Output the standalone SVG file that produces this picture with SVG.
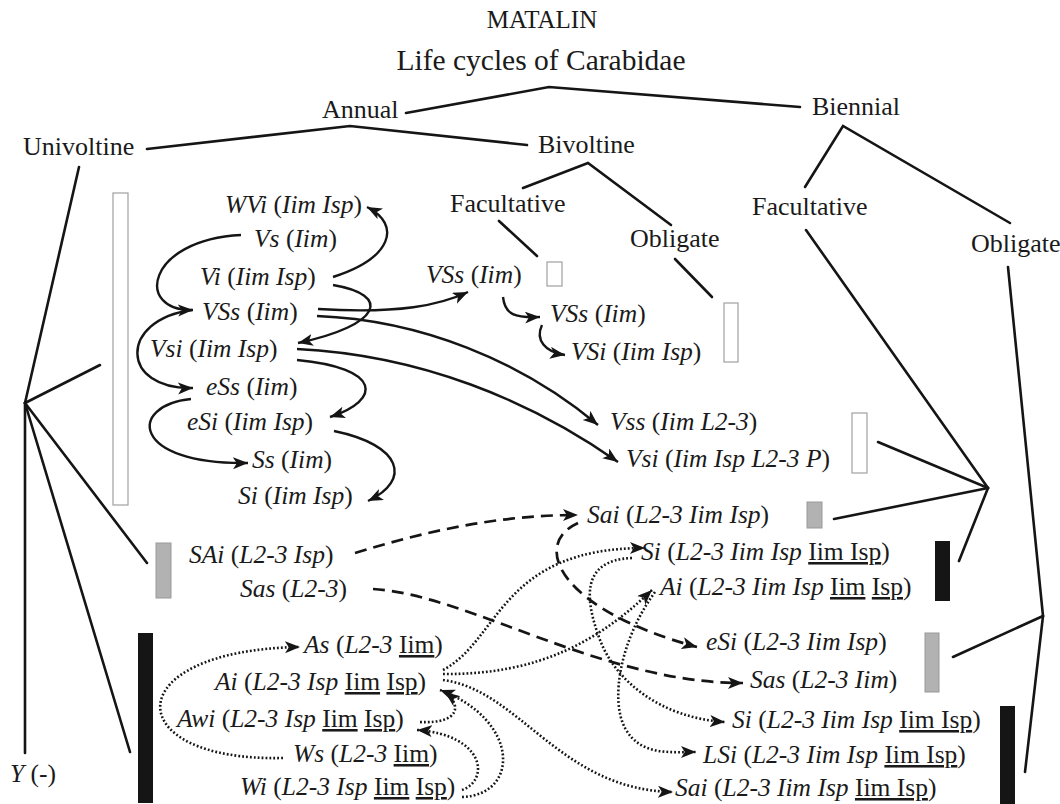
<svg xmlns="http://www.w3.org/2000/svg" width="1060" height="804" viewBox="0 0 1060 804" font-family="'Liberation Serif', 'DejaVu Serif', serif">
<style>
text{font-family:'Liberation Serif','DejaVu Serif',serif;fill:#1a1a1a}
.h{font-size:26px}
.s{font-size:25.5px;font-style:italic}
.n{font-style:normal}
.u{font-style:normal;text-decoration:underline}
.tree{stroke:#151515;stroke-width:2.6;fill:none;stroke-linecap:round}
.arr{stroke:#151515;stroke-width:2.4;fill:none;marker-end:url(#ah)}
.dash{stroke-width:2.7;stroke-dasharray:12 7}
.dot{stroke-width:2.6;stroke-dasharray:1.8 2.1}
.open{fill:#fff;stroke:#a0a0a0;stroke-width:1.2}
.gray{fill:#b2b2b2;stroke:#999;stroke-width:1}
.black{fill:#151515}
</style>
<defs>
<marker id="ah" markerUnits="userSpaceOnUse" markerWidth="17" markerHeight="13" refX="15" refY="6" orient="auto">
<path d="M0,0 L15,6 L0,12 L3.8,6 z" fill="#151515"/>
</marker>
</defs>
<rect width="1060" height="804" fill="#fff"/>

<g id="title">
<text x="542" y="28" font-size="25" text-anchor="middle">MATALIN</text>
<text x="541" y="70" font-size="29.5" text-anchor="middle">Life cycles of Carabidae</text>
</g>

<g id="tree-lines">
<polyline class="tree" points="406,113 549,87 800,107"/>
<polyline class="tree" points="147,149 350,126 527,145"/>
<polyline class="tree" points="805,187 843,126 1010,223"/>
<polyline class="tree" points="523,188 588,163 671,225"/>
<line class="tree" x1="499" y1="221" x2="537" y2="256"/>
<line class="tree" x1="675" y1="259" x2="712" y2="297"/>
<line class="tree" x1="806" y1="230" x2="988" y2="488"/>
<line class="tree" x1="878" y1="442" x2="988" y2="488"/>
<line class="tree" x1="834" y1="519" x2="988" y2="488"/>
<line class="tree" x1="959" y1="561" x2="988" y2="488"/>
<line class="tree" x1="1008" y1="267" x2="1043" y2="616"/>
<line class="tree" x1="1025" y1="772" x2="1043" y2="616"/>
<line class="tree" x1="953" y1="657" x2="1043" y2="616"/>
<line class="tree" x1="79" y1="167" x2="25" y2="403"/>
<line class="tree" x1="100" y1="365" x2="25" y2="403"/>
<line class="tree" x1="25" y1="753" x2="25" y2="403"/>
<line class="tree" x1="147" y1="563" x2="25" y2="403"/>
<line class="tree" x1="130" y1="752" x2="25" y2="403"/>
</g>

<g id="categories">
<text class="h" x="322" y="118">Annual</text>
<text class="h" x="812" y="115">Biennial</text>
<text class="h" x="23" y="155">Univoltine</text>
<text class="h" x="538" y="153">Bivoltine</text>
<text class="h" x="450" y="212">Facultative</text>
<text class="h" x="630" y="247">Obligate</text>
<text class="h" x="752" y="215">Facultative</text>
<text class="h" x="971" y="252">Obligate</text>
<text class="s" x="10" y="782">Y <tspan class="n">(-)</tspan></text>
</g>

<g id="bars">
<rect class="open" x="113" y="193" width="15" height="312"/>
<rect class="open" x="547" y="262" width="15" height="24"/>
<rect class="open" x="724" y="303" width="14" height="59"/>
<rect class="open" x="852" y="413" width="15" height="60"/>
<rect class="gray" x="156" y="543" width="15" height="55"/>
<rect class="black" x="138" y="633" width="15" height="170"/>
<rect class="gray" x="807" y="502" width="15" height="26"/>
<rect class="black" x="935" y="541" width="15" height="60"/>
<rect class="gray" x="925" y="633" width="14" height="59"/>
<rect class="black" x="1000" y="706" width="15" height="98"/>
</g>

<g id="connectors">
<path class="arr" d="M241,235 C145,240 135,312 193,310"/>
<path class="arr" d="M192,310 C118,320 120,390 193,388"/>
<path class="arr" d="M191,399 C128,405 130,465 248,463"/>
<path class="arr" d="M333,277 C392,258 402,225 367,207"/>
<path class="arr" d="M333,285 C392,295 382,325 298,343"/>
<path class="arr" d="M297,360 C382,368 382,400 330,417"/>
<path class="arr" d="M334,431 C402,445 412,480 368,501"/>
<path class="arr" d="M318,309 C400,314 440,305 468,292"/>
<path class="arr" d="M317,316 C420,320 520,360 598,425"/>
<path class="arr" d="M297,349 C420,355 530,400 618,462"/>
<path class="arr" d="M503,297 C505,315 515,318 540,317"/>
<path class="arr" d="M542,325 C535,340 545,352 565,355"/>
<path class="arr dash" d="M355,553 C430,530 500,515 578,515"/>
<path class="arr dash" d="M373,589 C470,595 600,683 743,683"/>
<path class="arr dash" d="M578,523 C530,545 560,610 697,647"/>
<path class="arr dot" d="M443,670 C500,640 500,548 645,548"/>
<path class="arr dot" d="M443,674 C540,675 600,640 652,590"/>
<path class="arr dot" d="M443,680 C520,690 560,790 673,792"/>
<path class="arr dot" d="M632,558 C580,560 585,600 600,640 S660,718 725,722"/>
<path class="arr dot" d="M655,592 C620,640 610,700 625,728 S670,752 696,752"/>
<path class="arr dot" d="M283,758 C118,762 115,650 300,647"/>
<path class="arr dot" d="M420,722 C460,724 462,705 445,692"/>
<path class="arr dot" d="M462,790 C490,780 485,735 417,730"/>
<path class="arr dot" d="M462,797 C520,795 520,720 440,690"/>
</g>

<g id="n-WVi"><text class="s" x="225" y="213">WVi <tspan class="n">(</tspan>Iim Isp<tspan class="n">)</tspan></text></g>
<g id="n-Vs"><text class="s" x="254" y="247">Vs <tspan class="n">(</tspan>Iim<tspan class="n">)</tspan></text></g>
<g id="n-Vi"><text class="s" x="200" y="285">Vi <tspan class="n">(</tspan>Iim Isp<tspan class="n">)</tspan></text></g>
<g id="n-VSs"><text class="s" x="202" y="320">VSs <tspan class="n">(</tspan>Iim<tspan class="n">)</tspan></text></g>
<g id="n-Vsi"><text class="s" x="150" y="357">Vsi <tspan class="n">(</tspan>Iim Isp<tspan class="n">)</tspan></text></g>
<g id="n-eSs"><text class="s" x="206" y="395">eSs <tspan class="n">(</tspan>Iim<tspan class="n">)</tspan></text></g>
<g id="n-eSi"><text class="s" x="187" y="430">eSi <tspan class="n">(</tspan>Iim Isp<tspan class="n">)</tspan></text></g>
<g id="n-Ss"><text class="s" x="252" y="468">Ss <tspan class="n">(</tspan>Iim<tspan class="n">)</tspan></text></g>
<g id="n-Si"><text class="s" x="238" y="504">Si <tspan class="n">(</tspan>Iim Isp<tspan class="n">)</tspan></text></g>

<g id="n-VSs-b1"><text class="s" x="426" y="283">VSs <tspan class="n">(</tspan>Iim<tspan class="n">)</tspan></text></g>
<g id="n-VSs-b2"><text class="s" x="550" y="322">VSs <tspan class="n">(</tspan>Iim<tspan class="n">)</tspan></text></g>
<g id="n-VSi-b2"><text class="s" x="571" y="360">VSi <tspan class="n">(</tspan>Iim Isp<tspan class="n">)</tspan></text></g>
<g id="n-Vss-bf"><text class="s" x="610" y="430">Vss <tspan class="n">(</tspan>Iim L2-3<tspan class="n">)</tspan></text></g>
<g id="n-Vsi-bf"><text class="s" x="626" y="467">Vsi <tspan class="n">(</tspan>Iim Isp L2-3 P<tspan class="n">)</tspan></text></g>

<g id="n-SAi"><text class="s" x="189" y="563">SAi <tspan class="n">(</tspan>L2-3 Isp<tspan class="n">)</tspan></text></g>
<g id="n-Sas"><text class="s" x="240" y="597">Sas <tspan class="n">(</tspan>L2-3<tspan class="n">)</tspan></text></g>
<g id="n-As"><text class="s" x="304" y="653">As <tspan class="n">(</tspan>L2-3 <tspan class="u">Iim</tspan><tspan class="n">)</tspan></text></g>
<g id="n-Ai"><text class="s" x="215" y="690">Ai <tspan class="n">(</tspan>L2-3 Isp <tspan class="u">Iim</tspan> <tspan class="u">Isp</tspan><tspan class="n">)</tspan></text></g>
<g id="n-Awi"><text class="s" x="177" y="727">Awi <tspan class="n">(</tspan>L2-3 Isp <tspan class="u">Iim</tspan> <tspan class="u">Isp</tspan><tspan class="n">)</tspan></text></g>
<g id="n-Ws"><text class="s" x="293" y="762">Ws <tspan class="n">(</tspan>L2-3 <tspan class="u">Iim</tspan><tspan class="n">)</tspan></text></g>
<g id="n-Wi"><text class="s" x="240" y="795">Wi <tspan class="n">(</tspan>L2-3 Isp <tspan class="u">Iim</tspan> <tspan class="u">Isp</tspan><tspan class="n">)</tspan></text></g>

<g id="n-Sai-bf"><text class="s" x="587" y="523">Sai <tspan class="n">(</tspan>L2-3 Iim Isp<tspan class="n">)</tspan></text></g>
<g id="n-Si-bf"><text class="s" x="641" y="560">Si <tspan class="n">(</tspan>L2-3 Iim Isp <tspan class="u">Iim Isp</tspan><tspan class="n">)</tspan></text></g>
<g id="n-Ai-bf"><text class="s" x="660" y="595">Ai <tspan class="n">(</tspan>L2-3 Iim Isp <tspan class="u">Iim</tspan> <tspan class="u">Isp</tspan><tspan class="n">)</tspan></text></g>
<g id="n-eSi-bo"><text class="s" x="706" y="650">eSi <tspan class="n">(</tspan>L2-3 Iim Isp<tspan class="n">)</tspan></text></g>
<g id="n-Sas-bo"><text class="s" x="750" y="688">Sas <tspan class="n">(</tspan>L2-3 Iim<tspan class="n">)</tspan></text></g>
<g id="n-Si-bo"><text class="s" x="732" y="728">Si <tspan class="n">(</tspan>L2-3 Iim Isp <tspan class="u">Iim Isp</tspan><tspan class="n">)</tspan></text></g>
<g id="n-LSi-bo"><text class="s" x="703" y="763">LSi <tspan class="n">(</tspan>L2-3 Iim Isp <tspan class="u">Iim Isp</tspan><tspan class="n">)</tspan></text></g>
<g id="n-Sai-bo"><text class="s" x="675" y="796">Sai <tspan class="n">(</tspan>L2-3 Iim Isp <tspan class="u">Iim Isp</tspan><tspan class="n">)</tspan></text></g>
</svg>
